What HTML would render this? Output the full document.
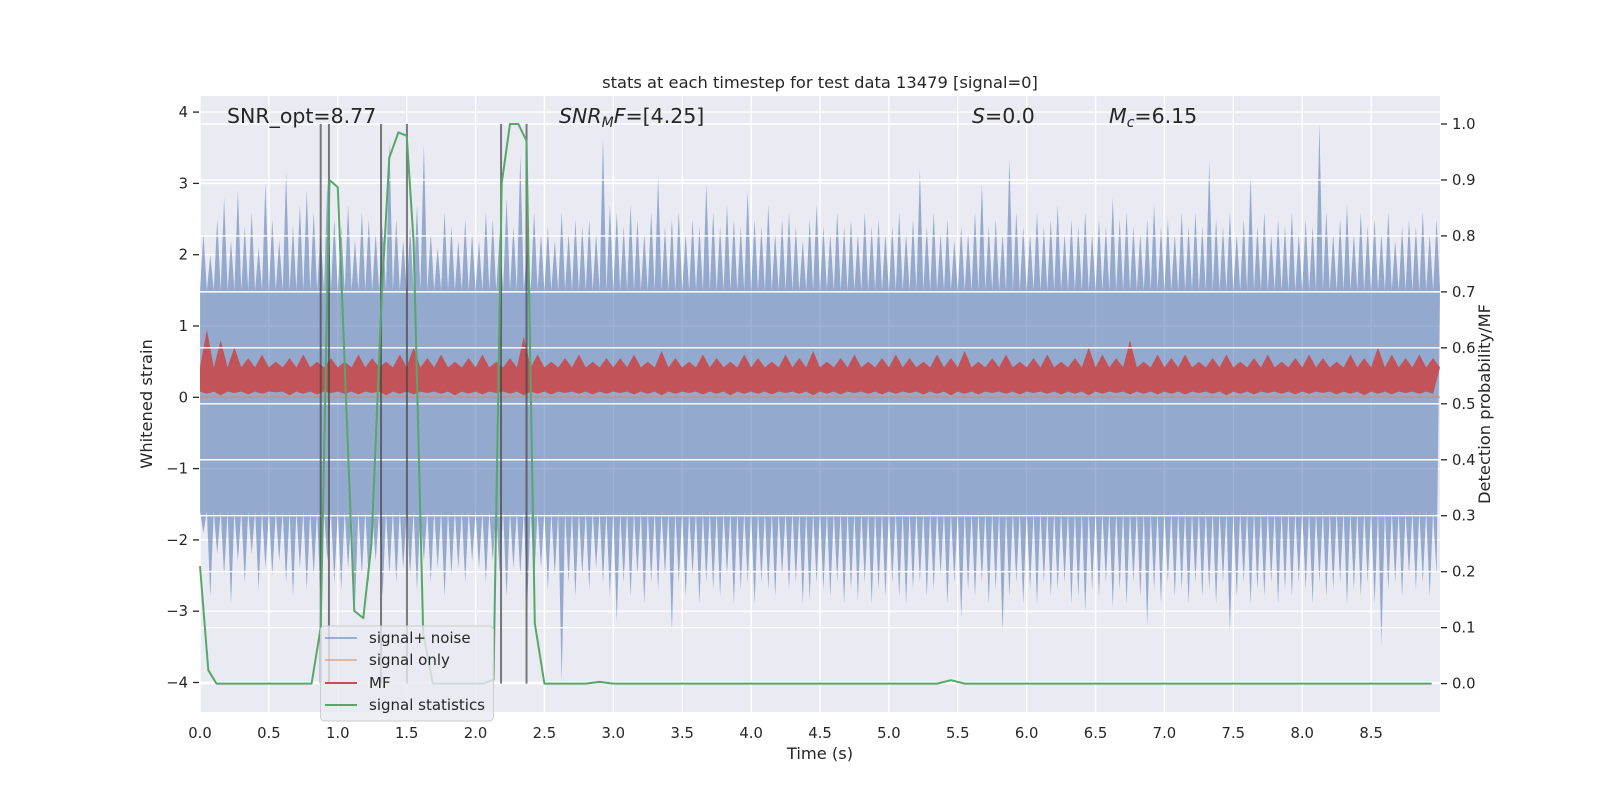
<!DOCTYPE html>
<html><head><meta charset="utf-8"><style>
html,body{margin:0;padding:0;background:#fff;}
svg{display:block;font-family:"DejaVu Sans","Liberation Sans",sans-serif;}
</style></head><body>
<svg id="chart" width="1600" height="800" viewBox="0 0 1600 800" xmlns="http://www.w3.org/2000/svg">
<rect x="0" y="0" width="1600" height="800" fill="#ffffff"/>
<rect x="200" y="96" width="1240" height="616" fill="#EAEAF2"/>
<g id="grid1"></g><g id="noise"></g><g id="sig"></g><g id="mf"></g><g id="grid2"></g><g id="vlines"></g><g id="green"></g>
<g id="axes"></g>
<text x="820" y="88" text-anchor="middle" font-size="16.3" fill="#262626">stats at each timestep for test data 13479 [signal=0]</text>
<text x="227" y="123" font-size="20.5" fill="#262626">SNR_opt=8.77</text>
<text x="559" y="123" font-size="20.5" fill="#262626"><tspan font-style="italic">SNR</tspan><tspan font-style="italic" font-size="14" dy="4">M</tspan><tspan font-style="italic" dy="-4">F</tspan>=[4.25]</text>
<text x="972" y="123" font-size="20.5" fill="#262626"><tspan font-style="italic">S</tspan>=0.0</text>
<text x="1109" y="123" font-size="20.5" fill="#262626"><tspan font-style="italic">M</tspan><tspan font-style="italic" font-size="14" dy="4">c</tspan><tspan dy="-4">=6.15</tspan></text>
<text x="820" y="759" text-anchor="middle" font-size="16.3" fill="#262626">Time (s)</text>
<text transform="translate(152,404) rotate(-90)" text-anchor="middle" font-size="16.3" fill="#262626">Whitened strain</text>
<text transform="translate(1490,404) rotate(-90)" text-anchor="middle" font-size="16.3" fill="#262626">Detection probability/MF</text>
<g>
<rect x="320.5" y="626" width="173" height="95" rx="4" fill="#EAEAF2" fill-opacity="0.8" stroke="#cccccc"/>
<g><line x1="325" y1="638" x2="357" y2="638" stroke="#4C72B0" stroke-opacity="0.5" stroke-width="2"/><text x="369" y="643" font-size="15" fill="#262626">signal+ noise</text></g>
<g><line x1="325" y1="660" x2="357" y2="660" stroke="#DD8452" stroke-opacity="0.5" stroke-width="2"/><text x="369" y="665" font-size="15" fill="#262626">signal only</text></g>
<g><line x1="325" y1="683" x2="357" y2="683" stroke="#C44E52" stroke-width="2"/><text x="369" y="688" font-size="15" fill="#262626">MF</text></g>
<g><line x1="325" y1="705" x2="357" y2="705" stroke="#55A868" stroke-width="2"/><text x="369" y="710" font-size="15" fill="#262626">signal statistics</text></g>
</g>
</svg>
<script>
// ---- data ----
const noiseBin = 0.05;
const noiseHi = [2.3,2.0,2.5,2.8,2.2,2.9,2.4,2.6,2.1,3.0, 2.5,2.2,3.15,2.4,2.7,2.9,2.6,2.3,3.05,2.5,
2.4,2.7,2.2,2.6,2.5,2.3,2.4,3.6,2.5,2.2, 2.4,2.7,3.55,2.3,2.1,2.6,2.4,2.2,2.5,2.3,
2.2,2.6,2.5,2.3,2.8,2.4,3.4,2.1,2.6,2.3, 2.4,2.2,2.6,2.3,2.5,2.4,2.5,2.3,3.64,2.7,
2.6,2.4,2.7,2.5,2.3,2.6,3.1,2.4,2.5,2.6, 2.3,2.5,2.4,3.0,2.6,2.4,2.7,2.5,2.4,2.9,
2.5,2.4,2.7,2.3,2.5,2.6,2.4,2.2,2.5,2.7, 2.4,2.3,2.6,2.4,2.5,2.3,2.6,2.4,2.5,2.3,
2.4,2.6,2.3,2.5,3.2,2.4,2.6,2.3,2.5,2.2, 2.4,2.3,2.6,3.0,2.4,2.5,2.3,3.35,2.6,2.4,
2.3,2.6,2.4,2.5,2.7,2.3,2.5,2.4,2.6,2.3, 2.5,2.4,2.8,2.5,2.6,2.4,2.3,2.5,2.7,2.4,
2.5,2.3,2.6,2.4,2.6,2.4,3.3,2.5,2.4,2.6, 2.3,2.5,3.1,2.4,2.6,2.3,2.5,2.4,2.6,2.3,
2.5,2.4,3.85,2.6,2.3,2.5,2.7,2.3,2.6,2.4, 2.5,2.3,2.6,2.2,2.4,2.5,2.4,2.6,2.3,2.5];
const noiseLo = [-1.9,-2.8,-2.2,-2.5,-2.9,-2.3,-2.6,-2.2,-2.7,-2.4, -2.5,-2.3,-2.6,-2.8,-2.4,-2.7,-2.5,-2.9,-2.3,-2.6,
-2.7,-2.4,-2.9,-2.5,-2.6,-2.3,-2.8,-2.5,-2.6,-2.4, -2.5,-2.7,-2.3,-2.6,-2.4,-2.8,-2.5,-2.4,-2.6,-2.3,
-2.4,-2.6,-2.3,-2.5,-2.8,-2.4,-2.5,-2.9,-2.6,-2.4, -2.7,-2.5,-4.0,-2.6,-2.8,-2.5,-2.7,-2.4,-2.6,-2.8,
-3.15,-2.6,-2.8,-2.5,-2.9,-2.6,-2.7,-2.5,-3.3,-2.6, -2.8,-2.5,-2.9,-2.6,-2.7,-2.8,-2.5,-2.9,-2.7,-2.6,
-2.9,-2.6,-2.7,-2.8,-2.5,-2.7,-2.6,-2.9,-2.85,-2.6, -2.7,-2.8,-2.6,-2.9,-2.7,-2.85,-2.6,-2.9,-2.7,-2.8,
-2.6,-2.8,-2.9,-2.7,-2.6,-2.8,-2.7,-2.5,-2.9,-2.6, -3.1,-2.7,-2.8,-2.6,-2.9,-2.7,-3.3,-2.8,-2.6,-2.9,
-2.7,-2.9,-2.6,-2.8,-2.7,-2.6,-2.9,-2.8,-3.0,-2.7, -2.8,-2.6,-2.95,-2.7,-2.9,-2.6,-2.8,-3.2,-2.7,-2.9,
-2.6,-2.8,-2.7,-2.9,-2.6,-2.8,-2.7,-2.9,-2.6,-3.3, -2.8,-2.6,-2.9,-2.7,-2.8,-2.6,-2.9,-2.7,-2.8,-2.6,
-2.7,-2.9,-2.6,-2.8,-2.7,-2.6,-2.9,-2.7,-2.8,-2.6, -2.9,-3.47,-2.7,-2.6,-2.8,-2.5,-2.7,-2.6,-2.8,-2.5];
const noiseCore = [1.5, -1.6];
const mfBin = 0.1;
const mfHi = [0.95,0.8,0.7,0.55,0.6,0.5,0.55,0.6,0.5,0.55, 0.5,0.6,0.55,0.5,0.6,0.7,0.55,0.6,0.5,0.55,
0.6,0.5,0.55,0.85,0.6,0.5,0.55,0.6,0.5,0.55, 0.55,0.6,0.5,0.65,0.55,0.5,0.6,0.55,0.5,0.6,
0.55,0.5,0.6,0.55,0.65,0.5,0.55,0.6,0.5,0.55, 0.6,0.55,0.5,0.6,0.55,0.65,0.5,0.55,0.6,0.5,
0.55,0.6,0.5,0.55,0.7,0.6,0.55,0.8,0.5,0.6, 0.55,0.6,0.5,0.55,0.6,0.5,0.55,0.6,0.5,0.55,
0.6,0.55,0.5,0.6,0.55,0.7,0.6,0.55,0.6,0.55];
const mfLo = [0.05,0.03,0.06,0.04,0.05,0.07,0.03,0.05,0.04,0.06, 0.05,0.04,0.06,0.03,0.05,0.04,0.06,0.05,0.03,0.05,
0.04,0.06,0.05,0.03,0.05,0.04,0.06,0.05,0.04,0.05, 0.06,0.04,0.05,0.03,0.05,0.06,0.04,0.05,0.03,0.05,
0.05,0.04,0.06,0.05,0.03,0.05,0.04,0.06,0.05,0.04, 0.05,0.06,0.04,0.05,0.03,0.05,0.04,0.06,0.05,0.04,
0.06,0.05,0.04,0.05,0.03,0.05,0.06,0.04,0.05,0.04, 0.05,0.04,0.06,0.05,0.03,0.05,0.04,0.06,0.05,0.04,
0.05,0.06,0.04,0.05,0.03,0.05,0.04,0.06,0.05,0.05];
const mfCore = [0.42, 0.08];
const signalValue = 0.0;
const statTimes = [0,0.06,0.12,0.81,0.876,0.94,1.0,1.12,1.185,1.245,1.32,1.374,1.44,1.5,1.55,1.62,1.69,2.056,2.13,2.19,2.25,2.31,2.37,2.43,2.5,2.8,2.9,3.0,5.35,5.45,5.55,8.94];
const statProbs = [0.21,0.024,0,0,0.10,0.90,0.887,0.13,0.117,0.25,0.70,0.94,0.985,0.979,0.79,0.09,0,0,0.007,0.894,1.0,1.0,0.97,0.108,0,0,0.003,0,0,0.006,0,0];
const peakTimes = [0.876,0.936,1.314,1.502,2.185,2.37];
const xTicks = [0,0.5,1,1.5,2,2.5,3,3.5,4,4.5,5,5.5,6,6.5,7,7.5,8,8.5];
const xTickLabels = ["0.0","0.5","1.0","1.5","2.0","2.5","3.0","3.5","4.0","4.5","5.0","5.5","6.0","6.5","7.0","7.5","8.0","8.5"];
const yTicks = [4,3,2,1,0,-1,-2,-3,-4];
const yTickLabels = ["4","3","2","1","0","\u22121","\u22122","\u22123","\u22124"];
const y2Ticks = [0,0.1,0.2,0.3,0.4,0.5,0.6,0.7,0.8,0.9,1.0];
const y2TickLabels = ["0.0","0.1","0.2","0.3","0.4","0.5","0.6","0.7","0.8","0.9","1.0"];

// ---- scales ----
const PL=200, PR=1440, PT=96, PB=712;
const X = t => PL + t/9.0*(PR-PL);
const Y = v => 397.3 - v*71.3;
const Y2 = p => 683.6 - p*559.6;
const NS="http://www.w3.org/2000/svg";
function mk(tag, parent){const e=document.createElementNS(NS,tag);document.getElementById(parent).appendChild(e);return e;}

xTicks.forEach((t,i)=>{const l=mk('line','grid1');l.setAttribute('x1',X(t));l.setAttribute('x2',X(t));l.setAttribute('y1',PT);l.setAttribute('y2',PB);l.setAttribute('stroke','#fff');l.setAttribute('stroke-width','1.4');

});
yTicks.forEach((v,i)=>{const l=mk('line','grid1');l.setAttribute('x1',PL);l.setAttribute('x2',PR);l.setAttribute('y1',Y(v));l.setAttribute('y2',Y(v));l.setAttribute('stroke','#fff');l.setAttribute('stroke-width','1.4');

});

function envelope(hi, lo, bin, coreTop, coreBot, yfn){
  const pts=[];
  pts.push([X(0),yfn(coreTop)]);
  for(let i=0;i<hi.length;i++){const t0=i*bin;pts.push([X(t0+bin*0.5),yfn(hi[i])]);pts.push([X(t0+bin),yfn(coreTop)]);}
  for(let i=lo.length-1;i>=0;i--){const t0=i*bin;pts.push([X(t0+bin*0.5),yfn(lo[i])]);pts.push([X(t0),yfn(coreBot)]);}
  return pts.map(p=>p[0].toFixed(1)+','+p[1].toFixed(1)).join(' ');
}
const np=mk('polygon','noise');
np.setAttribute('points',envelope(noiseHi,noiseLo,noiseBin,noiseCore[0],noiseCore[1],Y));
np.setAttribute('fill','#4C72B0');np.setAttribute('fill-opacity','0.55');



const sl=mk('line','sig');
sl.setAttribute('x1',X(0));sl.setAttribute('x2',X(9));sl.setAttribute('y1',Y(signalValue));sl.setAttribute('y2',Y(signalValue));
sl.setAttribute('stroke','#DD8452');sl.setAttribute('stroke-opacity','0.6');sl.setAttribute('stroke-width','2');



const mp=mk('polygon','mf');
mp.setAttribute('points',envelope(mfHi,mfLo,mfBin,mfCore[0],mfCore[1],Y));
mp.setAttribute('fill','#C44E52');mp.setAttribute('fill-opacity','0.95');



y2Ticks.forEach(p=>{const l=mk('line','grid2');l.setAttribute('x1',PL);l.setAttribute('x2',PR);l.setAttribute('y1',Y2(p));l.setAttribute('y2',Y2(p));l.setAttribute('stroke','#fff');l.setAttribute('stroke-width','1.4');

});

peakTimes.forEach(t=>{const l=mk('line','vlines');l.setAttribute('x1',X(t));l.setAttribute('x2',X(t));l.setAttribute('y1',Y2(1));l.setAttribute('y2',Y2(0));l.setAttribute('stroke','#444');l.setAttribute('stroke-opacity','0.7');l.setAttribute('stroke-width','2');

});

const gl=mk('polyline','green');
gl.setAttribute('points',statTimes.map((t,i)=>X(t).toFixed(1)+','+Y2(statProbs[i]).toFixed(1)).join(' '));
gl.setAttribute('fill','none');gl.setAttribute('stroke','#55A868');gl.setAttribute('stroke-width','2');gl.setAttribute('stroke-linejoin','round');



xTicks.forEach((t,i)=>{const tx=mk('text','axes');tx.setAttribute('x',X(t));tx.setAttribute('y',738);tx.setAttribute('text-anchor','middle');tx.setAttribute('font-size','14.8');tx.setAttribute('fill','#262626');tx.textContent=xTickLabels[i];

});
yTicks.forEach((v,i)=>{const tk=mk('line','axes');tk.setAttribute('x1',193);tk.setAttribute('x2',199);tk.setAttribute('y1',Y(v));tk.setAttribute('y2',Y(v));tk.setAttribute('stroke','#262626');tk.setAttribute('stroke-width','1.3');


const tx=mk('text','axes');tx.setAttribute('x',188);tx.setAttribute('y',Y(v)+5);tx.setAttribute('text-anchor','end');tx.setAttribute('font-size','14.8');tx.setAttribute('fill','#262626');tx.textContent=yTickLabels[i];

});
y2Ticks.forEach((p,i)=>{const tk=mk('line','axes');tk.setAttribute('x1',1441);tk.setAttribute('x2',1447);tk.setAttribute('y1',Y2(p));tk.setAttribute('y2',Y2(p));tk.setAttribute('stroke','#262626');tk.setAttribute('stroke-width','1.3');


const tx=mk('text','axes');tx.setAttribute('x',1452);tx.setAttribute('y',Y2(p)+5);tx.setAttribute('font-size','14.8');tx.setAttribute('fill','#262626');tx.textContent=y2TickLabels[i];

});
</script>
</body></html>
